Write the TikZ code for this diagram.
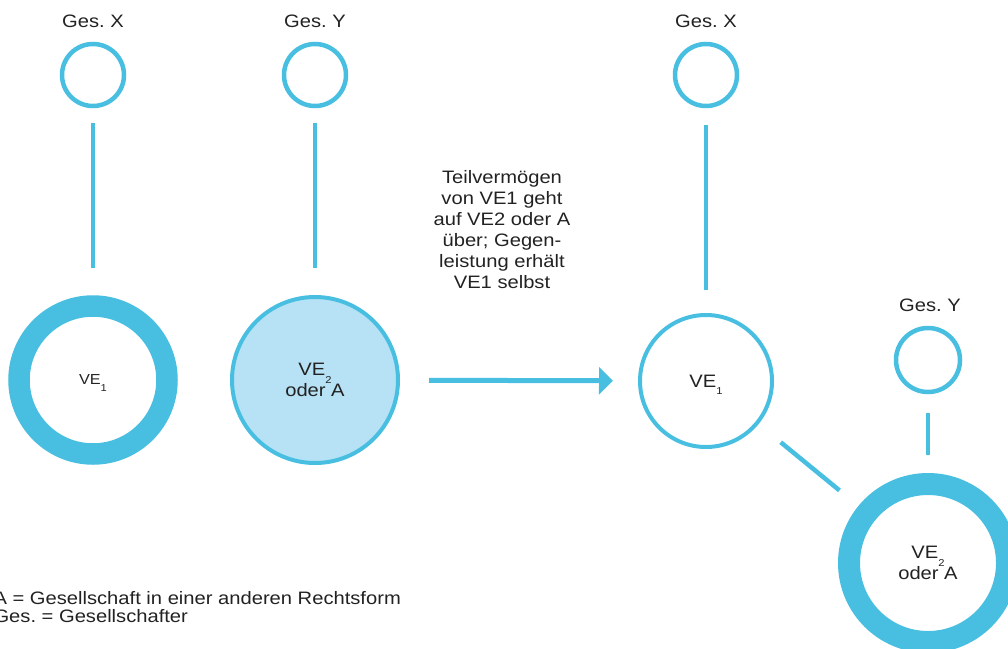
\documentclass[tikz,border=0pt]{standalone}
\usepackage{fontspec}
\setmainfont[FakeStretch=1.12]{Liberation Sans}
\usetikzlibrary{arrows.meta}
\definecolor{veblue}{HTML}{48BFE1}
\definecolor{velight}{HTML}{B7E1F5}
\definecolor{vetext}{HTML}{222222}
\newcommand\lowidx[1]{\smash{\raisebox{-0.42em}{\fontsize{10}{10}\selectfont #1}}}
\frenchspacing

\begin{document}
\begin{tikzpicture}[x=1pt, y=-1pt,
    every node/.style={text=vetext, font=\fontsize{18}{21}\selectfont},
    gesell/.style={circle, draw=veblue, line width=4.5pt, minimum size=62pt, inner sep=0pt},
    thickring/.style={circle, draw=veblue, line width=22pt, inner sep=0pt},
    thinring/.style={circle, draw=veblue, line width=4pt, inner sep=0pt},
    link/.style={draw=veblue, line width=4.5pt}]
  \useasboundingbox (0,0) rectangle (1008,648);

  \node[gesell] (gxl) at (93,75) {};
  \node (lgxl) at (93,21.5) {Ges. X};
  \node[gesell] (gyl) at (315,75) {};
  \node (lgyl) at (315,21.5) {Ges. Y};
  \node[thickring, line width=21.5pt, minimum size=148pt, font=\fontsize{14.5}{18}\selectfont] (ve1l) at (93,380) {VE\lowidx{1}};
  \node[thinring, fill=velight, minimum size=166pt, align=center] (ve2l) at (315,380) {VE\lowidx{2}\\oder A};

  \node[gesell] (gxr) at (706,75) {};
  \node (lgxr) at (706,21.5) {Ges. X};
  \node[thinring, minimum size=132pt] (ve1r) at (706,381) {VE\lowidx{1}};
  \node[gesell, minimum size=64pt] (gyr) at (928,360) {};
  \node (lgyr) at (930,305) {Ges. Y};
  \node[thickring, minimum size=158pt, align=center] (ve2r) at (928,563) {VE\lowidx{2}\\oder A};

  \node[align=center] (txt) at (502,230) {Teilvermögen\\von VE1 geht\\auf VE2 oder A\\über; Gegen-\\leistung erhält\\VE1 selbst};
  \node[anchor=west, align=left, font=\fontsize{18}{18.5}\selectfont] (legende) at (-10,607) {A = Gesellschaft in einer anderen Rechtsform\\Ges. = Gesellschafter};

  \draw[link, shorten <=14.75pt, shorten >=27.25pt] (gxl) -- (ve1l);
  \draw[link, shorten <=14.75pt, shorten >=27pt] (gyl) -- (ve2l);
  \draw[link, shorten <=16.75pt, shorten >=23pt] (gxr) -- (ve1r);
  \draw[link, shorten <=18.75pt, shorten >=18pt] (gyr) -- (ve2r);
  \draw[link, shorten <=28.6pt, shorten >=24.5pt] (ve1r) -- (ve2r);
  \draw[link, line width=5pt, shorten <=29pt, shorten >=25pt, -{Triangle[length=14pt, width=27pt]}] (ve2l) -- (ve1r);
\end{tikzpicture}
\end{document}
